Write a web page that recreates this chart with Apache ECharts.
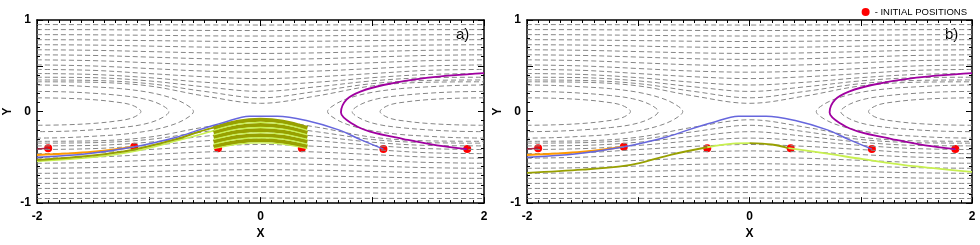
<!DOCTYPE html>
<html><head><meta charset="utf-8">
<script src="https://cdn.jsdelivr.net/npm/echarts@6/dist/echarts.min.js"></script>
<style>html,body{margin:0;padding:0;background:#fff}#c{width:980px;height:245px}</style>
</head><body><div id="c"></div>
<script>
// ---- data ----
const streamX = [-2,-1.5,-1,-0.5,0,0.5,1,1.5,2];
const streamUpper = [
  [.95,.949,.948,.946,.945,.946,.948,.949,.95],
  [.895,.894,.89,.886,.885,.886,.89,.894,.895],
  [.84,.838,.833,.827,.825,.827,.833,.838,.84],
  [.785,.782,.775,.768,.765,.768,.775,.782,.785],
  [.73,.726,.715,.704,.70,.704,.715,.726,.73],
  [.675,.669,.655,.641,.635,.641,.655,.669,.675],
  [.62,.613,.595,.577,.57,.577,.595,.613,.62],
  [.565,.556,.533,.51,.50,.51,.533,.556,.565],
  [.51,.498,.47,.442,.43,.442,.47,.498,.51],
  [.46,.45,.415,.38,.36,.38,.415,.45,.46],
  [.415,.405,.37,.32,.29,.32,.37,.405,.415],
  [.375,.37,.335,.27,.22,.27,.335,.37,.375],
  [.345,.34,.305,.22,.15,.22,.305,.34,.345],
  [.325,.32,.28,.17,.09,.17,.28,.32,.325]
];
const streamLower = [
  [-.95,-.949,-.948,-.946,-.945,-.946,-.948,-.949,-.95],
  [-.895,-.894,-.89,-.886,-.885,-.886,-.89,-.894,-.895],
  [-.84,-.838,-.833,-.827,-.825,-.827,-.833,-.838,-.84],
  [-.785,-.782,-.775,-.768,-.765,-.768,-.775,-.782,-.785],
  [-.73,-.726,-.715,-.704,-.70,-.704,-.715,-.726,-.73],
  [-.675,-.669,-.655,-.641,-.635,-.641,-.655,-.669,-.675],
  [-.62,-.613,-.595,-.577,-.57,-.577,-.595,-.613,-.62],
  [-.565,-.556,-.533,-.51,-.50,-.51,-.533,-.556,-.565],
  [-.51,-.498,-.47,-.442,-.43,-.442,-.47,-.498,-.51],
  [-.46,-.45,-.415,-.38,-.36,-.38,-.415,-.45,-.46],
  [-.415,-.405,-.37,-.32,-.29,-.32,-.37,-.405,-.415],
  [-.375,-.37,-.335,-.27,-.22,-.27,-.335,-.37,-.375],
  [-.345,-.34,-.305,-.22,-.15,-.22,-.305,-.34,-.345],
  [-.325,-.32,-.28,-.17,-.09,-.17,-.28,-.32,-.325]
];
const eyeLeft = [
  [[-2,.15],[-1.75,.145],[-1.5,.13],[-1.3,.105],[-1.15,.07],[-1.07,0],[-1.15,-.07],[-1.3,-.105],[-1.5,-.13],[-1.75,-.145],[-2,-.15]],
  [[-2,.22],[-1.75,.215],[-1.5,.2],[-1.25,.175],[-1.05,.14],[-.9,.08],[-.82,0],[-.9,-.08],[-1.05,-.14],[-1.25,-.175],[-1.5,-.2],[-1.75,-.215],[-2,-.22]],
  [[-2,.29],[-1.75,.285],[-1.5,.27],[-1.25,.25],[-1,.21],[-.8,.15],[-.67,.08],[-.6,0],[-.67,-.08],[-.8,-.15],[-1,-.21],[-1.25,-.25],[-1.5,-.27],[-1.75,-.285],[-2,-.29]]
];
const eyeRight = [
  [[2,.15],[1.75,.145],[1.5,.13],[1.3,.105],[1.15,.07],[1.07,0],[1.15,-.07],[1.3,-.105],[1.5,-.13],[1.75,-.145],[2,-.15]],
  [[2,.22],[1.75,.215],[1.5,.2],[1.25,.175],[1.05,.14],[.9,.08],[.82,0],[.9,-.08],[1.05,-.14],[1.25,-.175],[1.5,-.2],[1.75,-.215],[2,-.22]],
  [[2,.29],[1.75,.285],[1.5,.27],[1.25,.25],[1,.21],[.8,.15],[.67,.08],[.6,0],[.67,-.08],[.8,-.15],[1,-.21],[1.25,-.25],[1.5,-.27],[1.75,-.285],[2,-.29]]
];
const maroonPath = [[-1.9,-.4],[-2,-.41]];
const orangePath = [[-1.13,-.385],[-1.5,-.44],[-2,-.475]];
const bluePath = [[1.1,-.41],[.9,-.31],[.7,-.2],[.42,-.1],[.15,-.05],[-.1,-.05],[-.33,-.12],[-.55,-.2],[-.75,-.28],[-1.15,-.39],[-1.55,-.46],[-2,-.5]];
const purplePath = [[1.85,-.41],[1.58,-.37],[1.28,-.3],[.98,-.22],[.83,-.14],[.72,-.01],[.77,.13],[.9,.22],[1.1,.29],[1.5,.37],[2,.42]];
const oliveLeftA = [[-2,-.53],[-1.5,-.48],[-1.15,-.42],[-.75,-.3],[-.55,-.22],[-.4,-.17]];
const lightLeftA = [[-2,-.545],[-1.5,-.5],[-1.15,-.44],[-.75,-.32],[-.42,-.21]];
const bundleX = [-0.42,-0.2,0,0.2,0.42];
const bundleArcs = [
  [-.18,-.111,-.09,-.111,-.18],
  [-.205,-.138,-.118,-.138,-.205],
  [-.23,-.165,-.146,-.165,-.23],
  [-.255,-.193,-.174,-.193,-.255],
  [-.28,-.22,-.202,-.22,-.28],
  [-.305,-.247,-.23,-.247,-.305],
  [-.33,-.275,-.258,-.275,-.33],
  [-.355,-.302,-.286,-.302,-.355],
  [-.38,-.329,-.314,-.329,-.38],
  [-.405,-.356,-.342,-.356,-.405]
];
const oliveB1 = [[-2,-.67],[-1.5,-.635],[-1.16,-.6],[-.98,-.56],[-.7,-.47],[-.38,-.39]];
const lightB1 = [[-.38,-.39],[-.15,-.35],[0,-.345]];
const oliveB2 = [[0,-.345],[.2,-.36],[.35,-.4]];
const lightB2 = [[.35,-.4],[.7,-.46],[1.02,-.52],[1.5,-.6],[2,-.66]];
const initialPositions = [[-1.9,-.4],[-1.13,-.385],[-.38,-.4],[.37,-.4],[1.1,-.41],[1.85,-.41]];
const xTicks = ['-2','0','2'];
const yTicks = ['-1','0','1'];
const panelLabels = ['a)','b)'];

// ---- chart ----
const chart = echarts.init(document.getElementById('c'), null, {renderer:'canvas'});
const grids = [
  {left:37, top:20, width:447, height:188},
  {left:527, top:20, width:445, height:188}
];
const tickFont = {fontFamily:'Liberation Sans', fontWeight:'bold', fontSize:12, color:'#000'};
const xAxes = [], yAxes = [];
grids.forEach((g,i)=>{
  const common = {type:'value', gridIndex:i, axisLine:{onZero:false, lineStyle:{color:'#000', width:1.5}},
    splitLine:{show:false}};
  xAxes.push(Object.assign({}, common, {position:'bottom', min:-2, max:2, interval:1,
    axisTick:{inside:true, length:6, lineStyle:{color:'#000'}},
    minorTick:{show:true, splitNumber:10, length:3, lineStyle:{color:'#000'}},
    axisLabel:Object.assign({margin:8, formatter:v=> xTicks.indexOf(String(v))>=0 ? String(v) : ''}, tickFont),
    name:'X', nameLocation:'middle', nameGap:24, nameTextStyle:tickFont}));
  xAxes.push(Object.assign({}, common, {position:'top', min:-2, max:2, interval:1,
    axisTick:{inside:true, length:6, lineStyle:{color:'#000'}},
    minorTick:{show:true, splitNumber:10, length:3, lineStyle:{color:'#000'}},
    axisLabel:{show:false}}));
  yAxes.push(Object.assign({}, common, {position:'left', min:-1, max:1, interval:0.5,
    axisTick:{inside:true, length:6, lineStyle:{color:'#000'}},
    minorTick:{show:true, splitNumber:5, length:3, lineStyle:{color:'#000'}},
    axisLabel:Object.assign({margin:6, formatter:v=> yTicks.indexOf(String(v))>=0 ? String(v) : ''}, tickFont),
    name:'Y', nameLocation:'middle', nameGap:23, nameTextStyle:tickFont}));
  yAxes.push(Object.assign({}, common, {position:'right', min:-1, max:1, interval:0.5,
    axisTick:{inside:true, length:6, lineStyle:{color:'#000'}},
    minorTick:{show:true, splitNumber:5, length:3, lineStyle:{color:'#000'}},
    axisLabel:{show:false}}));
});

const series = [];
function line(g, data, color, width, opts){
  series.push(Object.assign({type:'line', xAxisIndex:2*g, yAxisIndex:2*g, data:data, showSymbol:false,
    symbol:'none', smooth:0.35, silent:true, lineStyle:{color:color, width:width}}, opts||{}));
}
const dash = {type:[5,3], color:'#858585', width:1};
for (let g=0; g<2; g++){
  streamUpper.concat(streamLower).forEach(ys=>{
    line(g, streamX.map((x,k)=>[x, ys[k]]), '#858585', 1, {lineStyle:dash});
  });
  eyeLeft.concat(eyeRight).forEach(p=> line(g, p, '#858585', 1, {lineStyle:dash}));
}
// panel a trajectories
line(0, lightLeftA, '#c8f050', 1.5);
line(0, oliveLeftA, '#98a000', 2);
bundleArcs.forEach((ys,i)=>{
  if (i%2===0) line(0, bundleX.map((x,k)=>[x, ys[k]]), '#98a000', 4);
});
bundleArcs.forEach((ys,i)=>{
  if (i%2===1) line(0, bundleX.map((x,k)=>[x, ys[k]]), '#c8f050', 1.3);
});
[0,1].forEach(g=>{
  line(g, orangePath, '#ff9900', 2);
  line(g, bluePath, '#6666dd', 1.5);
  line(g, maroonPath, '#aa2244', 1.5);
  line(g, purplePath, '#a000a0', 1.8);
});
line(1, oliveB1, '#98a000', 1.8);
line(1, lightB1, '#c8f050', 1.8);
line(1, oliveB2, '#98a000', 1.8);
line(1, lightB2, '#c8f050', 1.8);
[0,1].forEach(g=>{
  series.push({type:'scatter', name:'- INITIAL POSITIONS', xAxisIndex:2*g, yAxisIndex:2*g,
    data:initialPositions, symbol:'circle', symbolSize:8, itemStyle:{color:'#ff0000', opacity:1}, silent:true});
});

chart.setOption({
  animation:false,
  grid:grids,
  xAxis:xAxes, yAxis:yAxes,
  legend:{right:8, top:2, itemWidth:8, itemHeight:8, itemGap:4,
    data:[{name:'- INITIAL POSITIONS', icon:'circle', itemStyle:{color:'#ff0000', opacity:1}}],
    textStyle:{fontFamily:'Liberation Sans', fontSize:9.5, color:'#000'}},
  graphic:[
    {type:'text', left:456, top:27, style:{text:panelLabels[0], font:'15px Liberation Sans', fill:'#000'}},
    {type:'text', left:945, top:27, style:{text:panelLabels[1], font:'15px Liberation Sans', fill:'#000'}}
  ],
  series:series
});
</script></body></html>
